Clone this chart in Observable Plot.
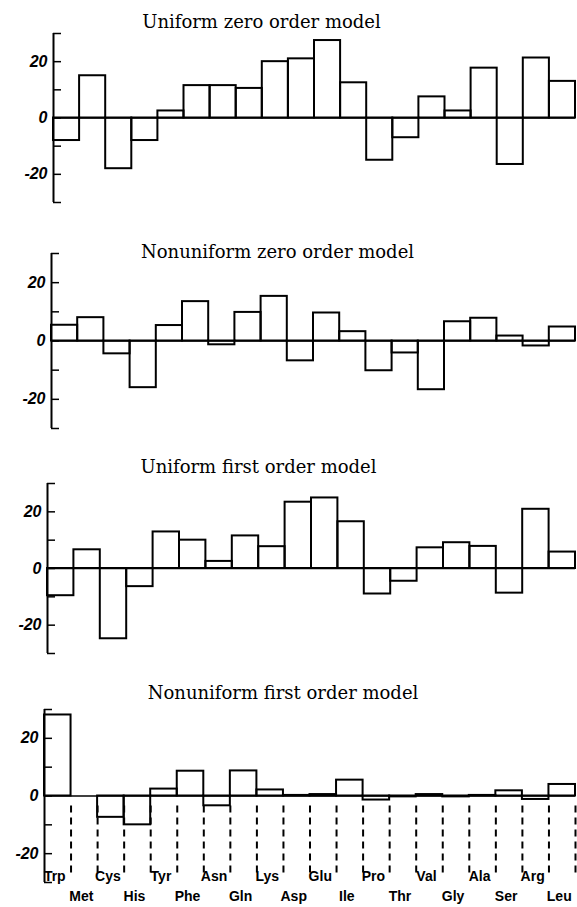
<!DOCTYPE html>
<html>
<head>
<meta charset="utf-8">
<script src="https://cdn.jsdelivr.net/npm/d3@7"></script>
<script src="https://cdn.jsdelivr.net/npm/@observablehq/plot@0.6"></script>
<style>
  body { margin: 0; background: #fff; }
  #chart svg { display: block; }
</style>
</head>
<body>
<div id="chart"></div>
<script>
// ---- data ----
const aminoAcids = ["Trp","Met","Cys","His","Tyr","Phe","Asn","Gln","Lys","Asp",
                    "Glu","Ile","Pro","Thr","Val","Gly","Ala","Ser","Arg","Leu"];
const panelTitles = ["Uniform zero order model","Nonuniform zero order model",
                     "Uniform first order model","Nonuniform first order model"];
const uniformZero    = [-8, 15, -18, -8, 2.5, 11.5, 11.5, 10.5, 20, 21, 27.5, 12.5, -15, -7, 7.5, 2.5, 17.7, -16.5, 21.3, 13];
const nonuniformZero = [5.4, 8, -4.4, -16, 5.3, 13.5, -1.3, 9.8, 15.3, -6.8, 9.6, 3.2, -10.2, -4.1, -16.7, 6.6, 7.8, 1.7, -1.7, 4.8];
const uniformFirst   = [-9.6, 6.6, -24.8, -6.4, 12.9, 10, 2.5, 11.5, 7.7, 23.4, 24.9, 16.5, -9, -4.5, 7.3, 9.1, 7.8, -8.7, 20.9, 5.8];
const nonuniformFirst= [28.1, 0, -7.4, -10, 2.4, 8.6, -3.4, 8.7, 2.1, 0.2, 0.5, 5.5, -1.4, -0.3, 0.5, -0.3, 0.2, 1.8, -1.2, 4];
const yDomain = [-30, 30];
const yTicks = [-30, -20, -10, 0, 10, 20, 30];
const yTickLabels = [-20, 0, 20];
const guideExtent = [-3.5, -27]; // dashed guide lines under the last panel

// ---- layout (pixels) ----
const W = 577, MR = 2, TICK = 8;
const layout = [
  {height: 225, mt: 33, mb: 23, ml: 53, tdx: -53, tdy: -6},
  {height: 215, mt: 28, mb: 12, ml: 51, tdx: -36, tdy: 4},
  {height: 220, mt: 43, mb: 7,  ml: 47, tdx: -53, tdy: -11},
  {height: 247, mt: 49, mb: 25, ml: 44, tdx: -27, tdy: -11}
];
const series = [uniformZero, nonuniformZero, uniformFirst, nonuniformFirst];

const chart = document.getElementById("chart");

series.forEach((vals, p) => {
  const L = layout[p];
  const rows = aminoAcids.map((a, i) => ({name: a, i, v: vals[i]}));
  const marks = [
    Plot.ruleY([0], {stroke: "#000", strokeWidth: 1.3}),
    Plot.rect(rows, {x1: d => d.i, x2: d => d.i + 1, y1: 0, y2: d => d.v,
                     fill: "none", stroke: "#000", strokeWidth: 2}),
    Plot.ruleX([0], {stroke: "#000", strokeWidth: 2}),
    Plot.tickY(yTicks, {y: d => d, stroke: "#000", strokeWidth: 1.5,
                        insetRight: W - MR - L.ml - TICK}),
    Plot.axisY({ticks: yTickLabels, tickSize: 0, tickPadding: 6, label: null,
                tickFormat: d => String(d), fontSize: 16, fontStyle: "italic",
                fontWeight: "bold", fontFamily: "Liberation Sans", fill: "#000"}),
    Plot.text([panelTitles[p]], {frameAnchor: "top", text: d => d, dx: L.tdx, dy: L.tdy,
                lineAnchor: "bottom", fontFamily: "DejaVu Serif", fontSize: 18, fill: "#000"})
  ];
  if (p === 3) {
    marks.push(
      Plot.ruleX(d3.range(1, aminoAcids.length + 1), {y1: guideExtent[0], y2: guideExtent[1],
                 stroke: "#000", strokeWidth: 2, strokeDasharray: "7,5"}),
      Plot.text(rows.filter(d => d.i % 2 === 0), {x: d => d.i + 0.5, y: yDomain[0], text: "name",
                 dx: -3, dy: -2, lineAnchor: "bottom", fontFamily: "Liberation Sans",
                 fontWeight: "bold", fontSize: 14, fill: "#000"}),
      Plot.text(rows.filter(d => d.i % 2 === 1), {x: d => d.i + 0.5, y: yDomain[0], text: "name",
                 dx: -3, dy: 18, lineAnchor: "bottom", fontFamily: "Liberation Sans",
                 fontWeight: "bold", fontSize: 14, fill: "#000"})
    );
  }
  const svg = Plot.plot({
    width: W,
    height: L.height,
    marginTop: L.mt,
    marginBottom: L.mb,
    marginLeft: L.ml,
    marginRight: MR,
    x: {domain: [0, aminoAcids.length], axis: null},
    y: {domain: yDomain, axis: null},
    style: {background: "#fff", color: "#000", overflow: "visible"},
    marks
  });
  chart.appendChild(svg);
});
</script>
</body>
</html>
